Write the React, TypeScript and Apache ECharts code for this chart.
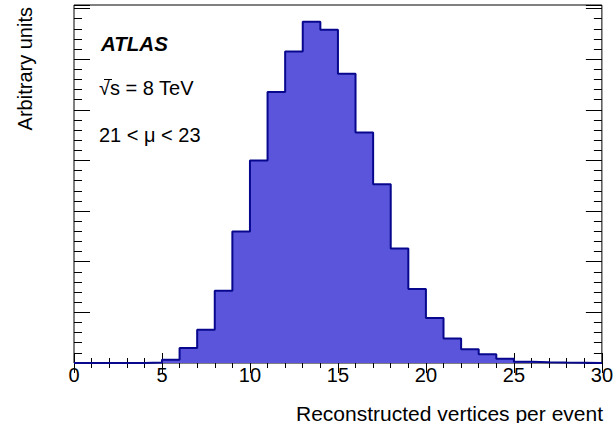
import React, { useEffect, useRef } from "react";
import * as echarts from "echarts";

// Histogram: bin edges (0..30, width 1) and bin contents (arbitrary units, major y tick = 10)
const binEdges = [0, 1, 2, 3, 4, 5, 6, 7, 8, 9, 10, 11, 12, 13, 14, 15, 16, 17, 18, 19, 20, 21, 22, 23, 24, 25, 26, 27, 28, 29, 30];
const binContents = [0, 0, 0, 0, 0.1, 0.65, 2.96, 6.57, 14.27, 25.98, 40.0, 53.5, 61.5, 67.4, 65.8, 57.1, 45.5, 35.3, 22.6, 14.6, 8.9, 4.86, 2.7, 1.75, 0.85, 0.26, 0.13, 0.08, 0.05, 0.02];
const xTickStep = 5;
const yMax = 70.7;
const yMajorStep = 10;
const yMinorStep = 2;

const labels = {
  experiment: "ATLAS",
  energy: "√s = 8 TeV",
  pileup: "21 < μ < 23",
  xTitle: "Reconstructed vertices per event",
  yTitle: "Arbitrary units",
};

const FONT = "Liberation Sans, Arial, Helvetica, sans-serif";
const FILL = "#5a55da";
const EDGE = "#08088f";

export default function App() {
  const ref = useRef<HTMLDivElement>(null);
  useEffect(() => {
    if (!ref.current) return;
    const chart = echarts.init(ref.current, undefined, { renderer: "svg" });
    const stepData = binEdges.map((e, i) => [e, binContents[Math.min(i, binContents.length - 1)]]);
    const tickCommon = { lineStyle: { color: "#000", width: 1 } };
    const yAxisBase = (position: string, interval: number, len: number) => ({
      type: "value",
      min: 0,
      max: yMax,
      interval,
      position,
      axisLine: { show: false },
      axisTick: { show: true, inside: true, length: len, ...tickCommon },
      axisLabel: { show: false },
      splitLine: { show: false },
    });
    chart.setOption({
      animation: false,
      grid: {
        left: 74,
        right: 13,
        top: 5,
        bottom: 60,
        show: true,
        borderColor: "#000",
        borderWidth: 1,
        backgroundColor: "transparent",
      },
      xAxis: [
        {
          type: "value",
          min: 0,
          max: 30,
          interval: xTickStep,
          position: "bottom",
          axisLine: { show: false },
          axisTick: { show: true, inside: true, length: 10, ...tickCommon },
          minorTick: { show: true, splitNumber: 5, length: 5, ...tickCommon },
          splitLine: { show: false },
          minorSplitLine: { show: false },
          axisLabel: { margin: 2, fontSize: 20, fontFamily: FONT, color: "#000" },
        },
        {
          type: "value",
          min: 0,
          max: 30,
          interval: xTickStep,
          position: "top",
          axisLine: { show: false },
          axisTick: { show: true, inside: true, length: 10, ...tickCommon },
          minorTick: { show: true, splitNumber: 5, length: 5, ...tickCommon },
          splitLine: { show: false },
          minorSplitLine: { show: false },
          axisLabel: { show: false },
        },
      ],
      yAxis: [
        yAxisBase("left", yMajorStep, 16),
        yAxisBase("left", yMinorStep, 8),
        yAxisBase("right", yMajorStep, 16),
        yAxisBase("right", yMinorStep, 8),
      ],
      series: [
        {
          type: "line",
          step: "end",
          data: stepData,
          xAxisIndex: 0,
          yAxisIndex: 0,
          symbol: "none",
          clip: false,
          lineStyle: { color: EDGE, width: 2 },
          areaStyle: { color: FILL, opacity: 1 },
        },
      ],
      graphic: [
        {
          type: "text",
          x: 101,
          y: 43,
          style: {
            text: labels.experiment,
            font: `italic bold 20.5px ${FONT}`,
            fill: "#000",
            align: "left",
            verticalAlign: "middle",
          },
        },
        {
          type: "text",
          x: 99,
          y: 88,
          style: {
            text: labels.energy,
            font: `20px ${FONT}`,
            fill: "#000",
            align: "left",
            verticalAlign: "middle",
          },
        },
        {
          type: "line",
          shape: { x1: 104, y1: 79.5, x2: 112, y2: 79.5 },
          style: { stroke: "#000", lineWidth: 1 },
        },
        {
          type: "text",
          x: 99,
          y: 135,
          style: {
            text: labels.pileup,
            font: `20px ${FONT}`,
            fill: "#000",
            align: "left",
            verticalAlign: "middle",
          },
        },
        {
          type: "text",
          x: 603,
          y: 413,
          style: {
            text: labels.xTitle,
            font: `21px ${FONT}`,
            fill: "#000",
            align: "right",
            verticalAlign: "middle",
          },
        },
        {
          type: "text",
          x: 25,
          y: 7,
          rotation: Math.PI / 2,
          style: {
            text: labels.yTitle,
            font: `20px ${FONT}`,
            fill: "#000",
            align: "right",
            verticalAlign: "middle",
          },
        },
      ],
    });
    return () => chart.dispose();
  }, []);
  return (
    <div
      ref={ref}
      style={{ position: "absolute", left: 0, top: 0, width: 616, height: 423 }}
    />
  );
}
